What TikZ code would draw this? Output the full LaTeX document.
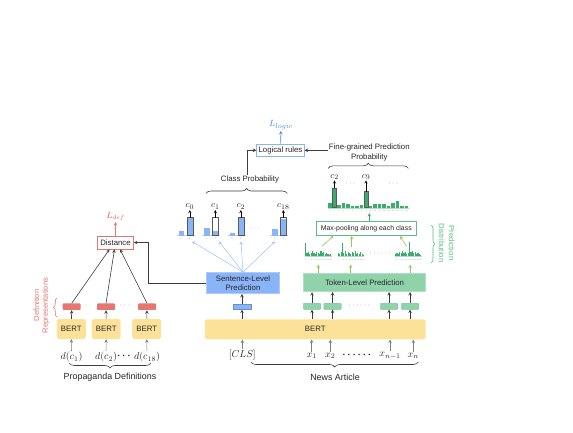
\documentclass[tikz,border=0pt]{standalone}
\usepackage[no-math]{fontspec}
\setmainfont{Liberation Sans}
\usepackage{amsmath}
\usepackage{tikz}
\usetikzlibrary{arrows,positioning,calc,decorations.pathreplacing}
\definecolor{bertyellow}{RGB}{252,226,152}
\definecolor{reprred}{RGB}{230,118,112}
\definecolor{lossred}{RGB}{226,86,76}
\definecolor{sentblue}{RGB}{138,180,248}
\definecolor{logicblue}{RGB}{74,134,232}
\definecolor{tokgreen}{RGB}{144,210,170}
\definecolor{histgreen}{RGB}{60,172,108}
\definecolor{distgreen}{RGB}{92,190,134}
\definecolor{arrowgreen}{RGB}{150,200,100}
\definecolor{linegray}{RGB}{60,60,60}

\begin{document}
\begin{tikzpicture}[
    x=1pt, y=-1pt,
    every node/.style={text=black!85},
    txt/.style={font=\fontsize{7.8}{9.6}\selectfont, align=center, inner sep=1pt},
    bigtxt/.style={font=\fontsize{8.9}{10.5}\selectfont, inner sep=1pt},
    mathtxt/.style={font=\fontsize{9.8}{11}\selectfont, inner sep=1pt},
    bertbox/.style={rectangle, fill=bertyellow, rounded corners=2.5pt,
                minimum width=29pt, minimum height=20pt, font=\fontsize{7.8}{9}\selectfont},
    reprect/.style={rectangle, fill=reprred, minimum width=18pt, minimum height=6.5pt,
                inner sep=0pt, rounded corners=0.8pt},
    clsrect/.style={rectangle, fill=sentblue, draw=sentblue!80!black, line width=0.4pt,
                minimum width=17.5pt, minimum height=5.3pt, inner sep=0pt},
    tokrect/.style={rectangle, fill=tokgreen, draw=histgreen!70, line width=0.4pt,
                minimum width=17.5pt, minimum height=6pt, inner sep=0pt, rounded corners=0.8pt},
    predbox/.style={rectangle, font=\fontsize{7.8}{8.7}\selectfont, align=center, line width=0.6pt},
    labelbox/.style={rectangle, draw, fill=white, line width=0.6pt,
                font=\fontsize{7.8}{9}\selectfont, inner sep=0pt, minimum height=13pt},
    arrow/.style={->, >=stealth, line width=0.6pt, draw=linegray},
    inarrow/.style={->, >=stealth, line width=0.6pt, draw=gray},
    fanarrow/.style={->, >=stealth, line width=0.5pt, draw=sentblue!85},
    greenarrow/.style={->, >=stealth, line width=0.6pt, draw=arrowgreen},
    bracedeco/.style={decorate, decoration={brace, amplitude=5pt}, line width=0.6pt, draw=linegray},
    ticklab/.style={font=\fontsize{2.2}{2.2}\selectfont, inner sep=0pt, text=gray},
    clab/.style={font=\fontsize{9.4}{10}\selectfont, inner sep=0.5pt}
]
    \useasboundingbox (0,0) rectangle (573,432);

    % Propaganda definitions - left column
    \node[mathtxt] (in1) at (71.5,357) {$d(c_1)$};
    \node[mathtxt] (in2) at (106,357) {$d(c_2)$};
    \node[mathtxt] (in3) at (147,357) {$d(c_{18})$};
    \node[mathtxt] (indots) at (124.8,356) {$\boldsymbol{\cdots}$};

    \node[bertbox] (def1) at (71.3,329) {BERT};
    \node[bertbox] (def2) at (106.2,329) {BERT};
    \node[bertbox] (def3) at (146.7,329) {BERT};
    \node[txt, text=bertyellow!80!orange] (defdots) at (126,327.5) {$\cdots$};

    \node[reprect] (rep1) at (71.7,306.7) {};
    \node[reprect] (rep2) at (106,306.7) {};
    \node[reprect] (rep3) at (147,306.7) {};
    \node[txt, text=reprred] (repdots) at (125.3,305.5) {$\cdots$};

    \node[labelbox, draw=reprred, minimum width=36pt] (dist) at (115.5,242.5) {Distance};
    \node[mathtxt, text=lossred, font=\fontsize{9}{10}\selectfont] (ldef) at (115.5,216.5) {$L_{def}$};

    \node[bigtxt] (propdef) at (110,377) {Propaganda Definitions};
    \node[txt, rotate=90, text=reprred, font=\fontsize{7.6}{8.6}\selectfont] (defrep) at (41.5,305.5) {Definition\\Representations};

    % Sentence branch
    \node[predbox, fill=sentblue, draw=sentblue!70!white, minimum width=72.6pt,
          minimum height=20.6pt] (sent) at (243,283) {Sentence-Level\\Prediction};
    \node[clsrect] (clsvec) at (242,306.7) {};
    \node[bertbox, minimum width=220.7pt] (bert) at (315.3,329.3) {BERT};

    % News article tokens
    \node[mathtxt] (cls) at (242.3,355) {$[CLS]$};
    \node[mathtxt] (x1) at (311.7,356) {$x_1$};
    \node[mathtxt] (x2) at (330.3,356) {$x_2$};
    \node[mathtxt] (xdots) at (357.7,355) {$\boldsymbol{\cdots\cdots}$};
    \node[mathtxt] (xm) at (390,356) {$x_{n-1}$};
    \node[mathtxt] (xn) at (413.3,356) {$x_n$};
    \node[bigtxt] (news) at (335,377) {News Article};

    % Token branch
    \node[tokrect] (tok1) at (312,306.3) {};
    \node[tokrect] (tok2) at (332.5,306.3) {};
    \node[tokrect] (tok3) at (389,306.3) {};
    \node[tokrect] (tok4) at (410,306.3) {};
    \node[txt, text=histgreen] (tokdots) at (360,305.5) {$\cdots\cdots$};
    \node[predbox, fill=tokgreen, draw=tokgreen!70!white, minimum width=122.4pt,
          minimum height=18.4pt] (token) at (364.5,282.5) {Token-Level Prediction};

    \node[labelbox, draw=distgreen, minimum width=99.3pt, minimum height=14.7pt,
          font=\fontsize{6.9}{8}\selectfont] (maxpool) at (366.3,228.3) {Max-pooling along each class};
    \node[txt, rotate=-90, text=distgreen, font=\fontsize{7.8}{10}\selectfont] (preddist) at (446.7,243) {Prediction\\Distribution};

    % Class probability and logic
    \node[txt] (classprob) at (250,179.7) {Class Probability};
    \node[labelbox, draw=sentblue, minimum width=47.6pt, minimum height=12.7pt] (logic) at (280.5,150.3) {Logical rules};
    \node[mathtxt, text=logicblue, font=\fontsize{9.4}{10}\selectfont] (llogic) at (281,125) {$L_{logic}$};
    \node[txt, font=\fontsize{7.8}{10}\selectfont] (finelab) at (369.3,152.7) {Fine-grained Prediction\\Probability};

    % Class probability bars
    \foreach \L/\hl/\hr/\lab in {178.5/4.7/18/0, 204/8/4.7/1, 229.5/2.4/18/2, 272/6.7/16.4/18} {
        \draw[sentblue!60, line width=0.5pt] (\L-2,235.7) -- (\L+16,235.7);
        \fill[sentblue] (\L,235.7) rectangle ++(5.7,-\hl);
        \fill[sentblue] (\L+8.3,235.7) rectangle ++(6,-\hr);
        \draw[gray!70!black, line width=0.5pt] (\L+8.3,235.7) rectangle ++(6,-18);
        \node[ticklab] at (\L+2.85,238.3) {0};
        \node[ticklab] at (\L+11.3,238.3) {1};
        \coordinate (b\lab) at (\L+11.3,217.7);
        \node[clab] (c\lab) at (\L+11.3,206.7) {$c_{\lab}$};
        \draw[->, >=stealth, line width=0.4pt] (b\lab) -- (c\lab);
    }
    \node[txt, text=sentblue] (bardots) at (255.7,229) {$\cdots$};
    \coordinate (p0) at (192,241.5);
    \coordinate (p1) at (219,241.5);
    \coordinate (p2) at (241,241.5);
    \coordinate (p18) at (275,241.5);

    % Prediction distributions per token
    \foreach \hx/\hh in {305/{13,3,4,2,3,5,3,2,4,3,2,5,3,4,2,3,2,1,2},
                         337.7/{3,2,4,13,3,5,2,4,3,2,4,3,5,2,3,2,4,2,1},
                         395/{2,3,2,4,3,5,3,4,2,3,14,4,5,3,4,2,3,2,1}} {
        \draw[histgreen!40, line width=0.4pt] (\hx,256) -- (\hx+26.6,256);
        \foreach \h [count=\j from 0] in \hh
            \fill[histgreen] (\hx+\j*1.4,256) rectangle ++(1.15,-\h);
        \foreach \j in {0,2,...,18}
            \node[ticklab, font=\fontsize{1.6}{1.6}\selectfont] at (\hx+\j*1.4+0.6,259.5) {\j};
    }
    \node[txt, text=histgreen] (histdots) at (381,254) {$\cdots\cdots$};
    \coordinate (ht1) at (318.3,264.5);
    \coordinate (ht2) at (350.7,264.5);
    \coordinate (ht3) at (410,264.5);
    \coordinate (hm1) at (321.7,246.5);
    \coordinate (hm2) at (351.7,246.5);
    \coordinate (hm3) at (406.7,246.5);

    % Fine-grained probability
    \draw[histgreen!40, line width=0.4pt] (328,207.7) -- (409,207.7);
    \foreach \h [count=\k] in {5,19.4,2.5,5,4,2,1.5,3,16,2,3.5,4,4,2,5,7,2,1.5} {
        \fill[histgreen] (328+\k*4.5-4.5,207.7) rectangle ++(3.9,-\h);
        \node[ticklab, font=\fontsize{1.8}{1.8}\selectfont] at (328+\k*4.5-2.5,210.8) {\k};
    }
    \draw[gray!70!black, line width=0.5pt] (332.5,207.7) rectangle ++(3.9,-19.4);
    \draw[gray!70!black, line width=0.5pt] (364,207.7) rectangle ++(3.9,-16);
    \coordinate (f2) at (334.5,188.3);
    \coordinate (f9) at (366,191.7);
    \node[clab] (c2f) at (334.5,177) {$c_2$};
    \node[clab] (c9f) at (366,177) {$c_9$};
    \draw[->, >=stealth, line width=0.4pt] (f2) -- (c2f);
    \draw[->, >=stealth, line width=0.4pt] (f9) -- (c9f);
    \node[txt, text=histgreen] (finedots1) at (351,183.5) {$\cdots$};
    \node[txt, text=histgreen] (finedots2) at (394,183.5) {$\cdots$};
    \coordinate (finebase) at (369.3,213);

    % Braces
    \draw[bracedeco] (150.7,363) -- (69.3,363);
    \draw[bracedeco] (418.3,362) -- (251,362);
    \draw[bracedeco] (206,193.5) -- (287.3,193.5);
    \draw[bracedeco] (328.3,168.3) -- (408.3,168.3);
    \draw[bracedeco, draw=reprred, decoration={brace, amplitude=3.5pt}] (57,317) -- (57,298);
    \draw[bracedeco, draw=distgreen, decoration={brace, amplitude=4pt}] (431,225) -- (431,263);

    % Connections - definitions
    \foreach \i in {1,2,3} {
        \draw[inarrow] (in\i) -- (def\i);
        \draw[arrow] (def\i) -- (rep\i);
    }
    \draw[arrow] (rep1.north) -- ([xshift=-6pt]dist.south);
    \draw[arrow] (rep2.north) -- ([xshift=-1pt]dist.south);
    \draw[arrow] (rep3.north) -- ([xshift=4.5pt]dist.south);
    \draw[arrow, draw=reprred] (dist) -- (ldef);
    \coordinate (elbow) at (148,283);
    \draw[arrow] (sent.west) -- (elbow) |- (dist.east);

    % Connections - sentence level
    \draw[inarrow] (cls) -- (cls |- bert.south);
    \draw[arrow] (clsvec |- bert.north) -- (clsvec);
    \draw[arrow] (clsvec) -- (clsvec |- sent.south);
    \foreach \p in {p0,p1,p2,p18}
        \draw[fanarrow] (sent.north) -- (\p);
    \draw[arrow] ([xshift=-2.7pt]classprob.north) |- (logic.west);
    \draw[arrow] (logic.east -| finelab.west) -- (logic.east);
    \draw[arrow, draw=logicblue] (logic) -- (llogic);

    % Connections - token level
    \foreach \x/\t in {x1/tok1, x2/tok2, xm/tok3, xn/tok4} {
        \draw[inarrow] (\x) -- (\x |- bert.south);
        \draw[arrow] (\t |- bert.north) -- (\t);
        \draw[arrow] (\t) -- (\t |- token.south);
    }
    \foreach \h in {ht1,ht2,ht3}
        \draw[greenarrow] (token.north -| \h) -- (\h);
    \draw[greenarrow] (hm1) -- ($(maxpool.south)+(-33,0)$);
    \draw[greenarrow] (hm2) -- (maxpool.south -| hm2);
    \draw[greenarrow] (hm3) -- ($(maxpool.south)+(33.7,0)$);
    \draw[greenarrow, draw=histgreen] ($(maxpool.north)+(3,0)$) -- (finebase);

\end{tikzpicture}
\end{document}
